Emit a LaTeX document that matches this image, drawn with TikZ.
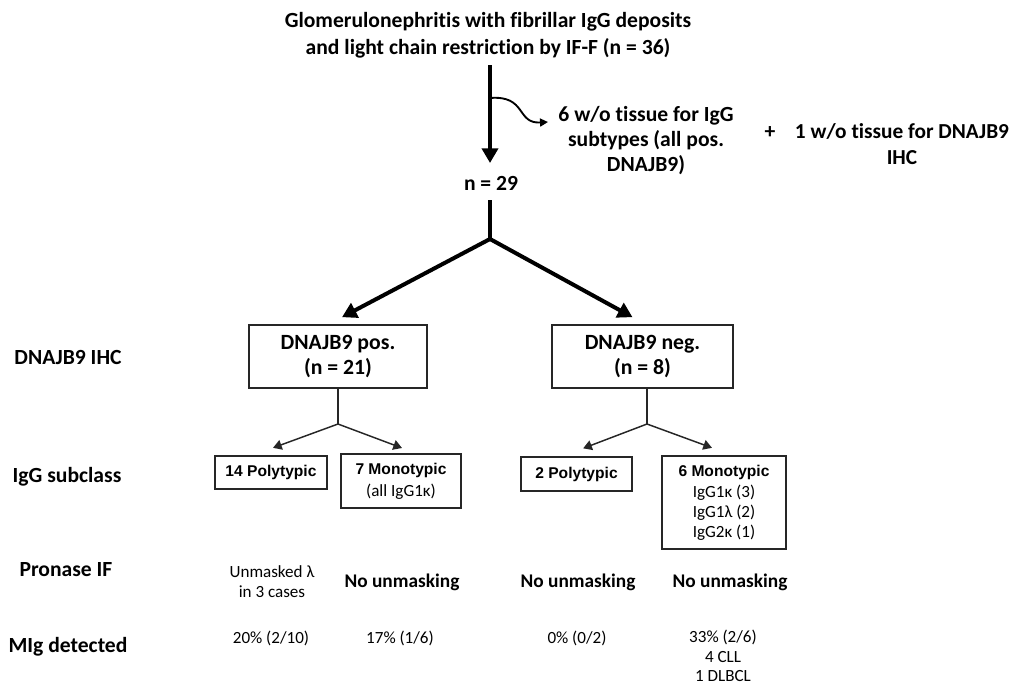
\documentclass[tikz,border=0pt]{standalone}
\usepackage{fontspec}
\setmainfont{Carlito}[Ligatures=NoCommon]
\newfontfamily\arialf{Liberation Sans}
\usetikzlibrary{arrows.meta}
\begin{document}
\begin{tikzpicture}[x=0.75pt,y=-0.75pt,
  every node/.style={inner sep=0pt,outer sep=0pt,text=black},
  big/.style={font=\fontsize{16.2}{20.5}\selectfont\bfseries,align=center},
  mid/.style={font=\fontsize{16.3}{18.75}\selectfont\bfseries,align=center},
  lab/.style={font=\fontsize{16.2}{19}\selectfont\bfseries,align=center},
  unm/.style={font=\fontsize{14.5}{17}\selectfont\bfseries,align=center},
  small/.style={font=\fontsize{12.8}{15}\selectfont,align=center},
  arl/.style={font=\arialf\fontsize{11.7}{15}\selectfont\bfseries,align=center},
  box/.style={draw=black!85,line width=1.4pt},
  thickarrow/.style={draw=black,line width=3pt,-{Triangle[length=11pt,width=12pt]}},
  thickline/.style={draw=black,line width=3pt},
  thinarrow/.style={draw=black!85,line width=1.1pt,-{Triangle[length=6.5pt,width=7.5pt]}},
  thinline/.style={draw=black!85,line width=1.1pt},
  curvearrow/.style={draw=black,line width=1.4pt,-{Triangle[length=6pt,width=6pt]}}
]
\useasboundingbox (0,0) rectangle (1024,686);

% top
\node[big] (top) at (488,35) {Glomerulonephritis with fibrillar IgG deposits\\and light chain restriction by IF-F (n = 36)};
\coordinate (s0) at (490,65);
\coordinate (s1) at (490,163);
\draw[thickarrow] (s0) -- (s1);

\node[big,font=\fontsize{16.2}{18.75}\selectfont\bfseries] (wo6) at (646,141) {6 w/o tissue for IgG\\subtypes (all pos.\\DNAJB9)};
\coordinate (c0) at (490,98);
\coordinate (c1) at (548,122);
\draw[curvearrow] (c0) .. controls (527,95) and (516,124) .. (c1);

\node[big] (plus) at (770,133) {+};
\node[big,font=\fontsize{16}{19.5}\selectfont\bfseries] (wo1) at (902,144) {1 w/o tissue for DNAJB9\\IHC};

\node[big] (n29) at (491,183) {n = 29};
\coordinate (j0) at (490,200);
\coordinate (j) at (490,239);
\draw[thickline] (j0) -- (j);

% level 1 boxes
\node[box,mid,minimum width=134pt,minimum height=47pt] (pos) at (338,356.5) {DNAJB9 pos.\\(n = 21)};
\node[box,mid,minimum width=136pt,minimum height=47pt] (neg) at (642.5,356.5) {DNAJB9 neg.\\(n = 8)};
\draw[thickarrow] (j) -- ([xshift=3pt,yshift=6pt]pos.north);
\draw[thickarrow] (j) -- ([xshift=-7.5pt,yshift=6pt]neg.north);

% level 2 boxes
\node[box,arl,minimum width=84pt,minimum height=25pt] (poly1) at (271,472.5) {14 Polytypic};
\node[box,minimum width=90pt,minimum height=40.5pt,align=center,font=\fontsize{12.8}{16.5}\selectfont] (mono1) at (401,481)
  {{\arialf\fontsize{11.7}{16.5}\selectfont\bfseries 7 Monotypic}\\(all IgG1κ)};
\node[box,arl,minimum width=83pt,minimum height=25.5pt] (poly2) at (576.5,474) {2 Polytypic};
\node[box,minimum width=93pt,minimum height=70pt,align=center,font=\fontsize{12.8}{15}\selectfont] (mono2) at (724,502.5)
  {{\arialf\fontsize{11.7}{15}\selectfont\bfseries 6 Monotypic}\\[0.8pt]IgG1κ (3)\\IgG1λ (2)\\IgG2κ (1)};

\coordinate (b1) at (338,424);
\draw[thinline] (pos.south) -- (b1);
\draw[thinarrow] (b1) -- ([xshift=1.5pt,yshift=6pt]poly1.north);
\draw[thinarrow] (b1) -- ([xshift=0.75pt,yshift=4.5pt]mono1.north);

\coordinate (bt2) at (647,388);
\coordinate (b2) at (647,424);
\draw[thinline] (bt2) -- (b2);
\draw[thinarrow] (b2) -- ([xshift=5pt,yshift=6.5pt]poly2.north);
\draw[thinarrow] (b2) -- ([xshift=-9pt,yshift=6pt]mono2.north);

% row labels
\node[lab] (l1) at (68,357) {DNAJB9 IHC};
\node[lab] (l2) at (67,477) {IgG subclass};
\node[lab] (l3) at (66,570) {Pronase IF};
\node[lab] (l4) at (68,647) {MIg detected};

% pronase row
\node[small] (p1) at (272,582) {Unmasked λ\\in 3 cases};
\node[unm] (p2) at (402,582) {No unmasking};
\node[unm] (p3) at (578,582) {No unmasking};
\node[unm] (p4) at (730,582) {No unmasking};

% MIg row
\node[small] (m1) at (271,638) {20\% (2/10)};
\node[small] (m2) at (400,638) {17\% (1/6)};
\node[small] (m3) at (577,638) {0\% (0/2)};
\node[small,font=\fontsize{12.8}{14.6}\selectfont] (m4) at (723,656) {33\% (2/6)\\4 CLL\\1 DLBCL};
\end{tikzpicture}
\end{document}
